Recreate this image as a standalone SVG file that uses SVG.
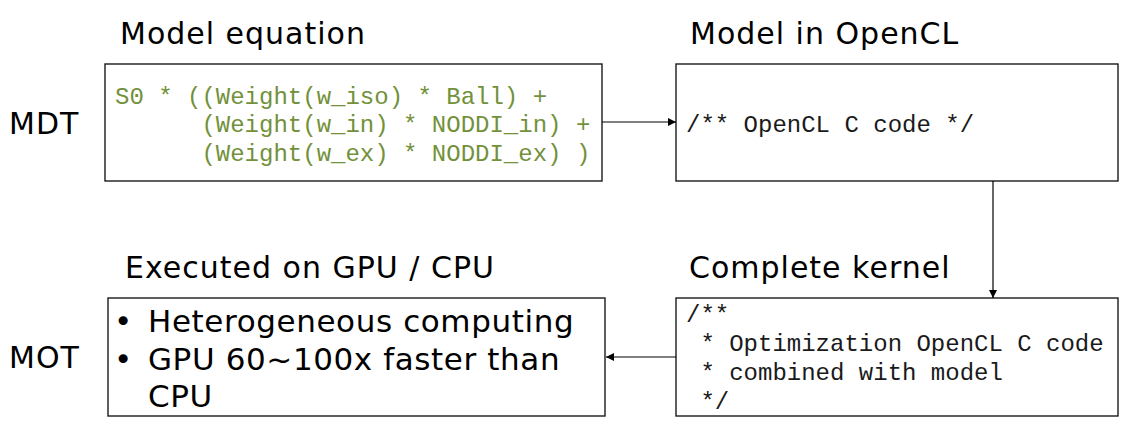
<svg xmlns="http://www.w3.org/2000/svg" width="1130" height="438" viewBox="0 0 1130 438">
  <style>
    .box { fill: #ffffff; stroke: #1a1a1a; stroke-width: 1.4; }
    .title { font-family: "DejaVu Sans", Verdana, sans-serif; font-size: 30px; letter-spacing: 1px; fill: #000; }
    .code { font-family: "Liberation Mono", "Courier New", monospace; font-size: 24px; fill: #1a1a1a; white-space: pre; }
    .eq { fill: #72913a; }
    .bullet { font-family: "DejaVu Sans", Verdana, sans-serif; font-size: 31px; letter-spacing: 0.6px; fill: #000; }
    .edge { stroke: #000; stroke-width: 1.2; fill: none; marker-end: url(#arrow); }
  </style>
  <defs>
    <marker id="arrow" viewBox="0 0 10 10" refX="10" refY="5" markerWidth="8" markerHeight="8" markerUnits="userSpaceOnUse" orient="auto">
      <path d="M0,0 L10,5 L0,10 z" fill="#000"/>
    </marker>
  </defs>

  <!-- row labels -->
  <text class="title" x="9" y="134">MDT</text>
  <text class="title" x="9" y="368">MOT</text>

  <g id="model-equation">
    <text class="title" x="120" y="44">Model equation</text>
    <rect class="box" x="105" y="64" width="497" height="117"/>
    <text class="code eq" x="115" y="104" xml:space="preserve">S0 * ((Weight(w_iso) * Ball) +</text>
    <text class="code eq" x="115" y="132" xml:space="preserve">      (Weight(w_in) * NODDI_in) +</text>
    <text class="code eq" x="115" y="161" xml:space="preserve">      (Weight(w_ex) * NODDI_ex) )</text>
  </g>

  <g id="model-opencl">
    <text class="title" x="690" y="44">Model in OpenCL</text>
    <rect class="box" x="676" y="64" width="442" height="117"/>
    <text class="code" x="686" y="132" xml:space="preserve">/** OpenCL C code */</text>
  </g>

  <g id="complete-kernel">
    <text class="title" x="689" y="278">Complete kernel</text>
    <rect class="box" x="676" y="298" width="442" height="118"/>
    <text class="code" x="686" y="322" xml:space="preserve">/**</text>
    <text class="code" x="686" y="351" xml:space="preserve"> * Optimization OpenCL C code</text>
    <text class="code" x="686" y="380" xml:space="preserve"> * combined with model</text>
    <text class="code" x="686" y="409" xml:space="preserve"> */</text>
  </g>

  <g id="executed">
    <text class="title" x="125" y="278">Executed on GPU / CPU</text>
    <rect class="box" x="108" y="298" width="497" height="118"/>
    <text class="bullet" x="114" y="332">•</text>
    <text class="bullet" x="148" y="332">Heterogeneous computing</text>
    <text class="bullet" x="114" y="370">•</text>
    <text class="bullet" x="148" y="370">GPU 60~100x faster than</text>
    <text class="bullet" x="148" y="407">CPU</text>
  </g>

  <g id="connectors">
    <line class="edge" x1="602" y1="122" x2="676" y2="122"/>
    <line class="edge" x1="993" y1="181" x2="993" y2="298"/>
    <line class="edge" x1="676" y1="357" x2="606" y2="357"/>
  </g>
</svg>
